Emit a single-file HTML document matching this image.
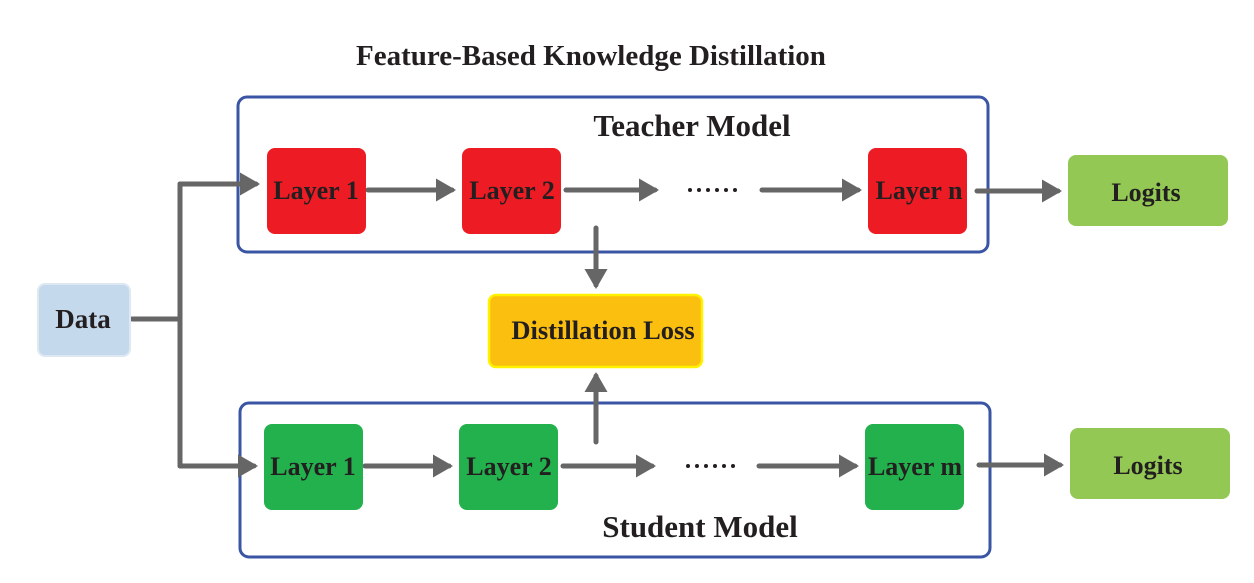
<!DOCTYPE html>
<html><head><meta charset="utf-8"><style>
body{margin:0;background:#fff;}
svg text{font-family:"Liberation Serif",serif;font-weight:bold;fill:#231f20;}
</style></head><body>
<svg width="1254" height="578" viewBox="0 0 1254 578" xmlns="http://www.w3.org/2000/svg">
<defs>
<marker id="a" markerWidth="4" markerHeight="4.6" refX="3.2" refY="2.3" orient="auto" markerUnits="strokeWidth">
<path d="M0,0 L4,2.3 L0,4.6 z" fill="#666"/></marker>
</defs>
<text x="591" y="65" font-size="29" text-anchor="middle">Feature-Based Knowledge Distillation</text>
<rect x="238" y="97" width="750" height="155" rx="9" fill="none" stroke="#3a55a4" stroke-width="3"/>
<rect x="240" y="403" width="750" height="154" rx="9" fill="none" stroke="#3a55a4" stroke-width="3"/>
<text x="692" y="136" font-size="31" text-anchor="middle">Teacher Model</text>
<text x="700" y="537" font-size="31" text-anchor="middle">Student Model</text>
<g stroke="#666" stroke-width="5" fill="none" stroke-linecap="round">
<path d="M132,319 H180"/>
<path d="M180,184 V466"/>
<path d="M180,184 H256" marker-end="url(#a)"/>
<path d="M180,466 H254" marker-end="url(#a)"/>
<path d="M368,190 H452" marker-end="url(#a)"/>
<path d="M566,190 H655" marker-end="url(#a)"/>
<path d="M762,190 H858" marker-end="url(#a)"/>
<path d="M977,191 H1058" marker-end="url(#a)"/>
<path d="M365,466 H449" marker-end="url(#a)"/>
<path d="M563,466 H652" marker-end="url(#a)"/>
<path d="M759,466 H855" marker-end="url(#a)"/>
<path d="M979,465 H1060" marker-end="url(#a)"/>
<path d="M596,228 V285" marker-end="url(#a)"/>
<path d="M596,442 V376" marker-end="url(#a)"/>
</g>
<g fill="#231f20">
<circle cx="690" cy="190" r="2"/><circle cx="699" cy="190" r="2"/><circle cx="708" cy="190" r="2"/><circle cx="717" cy="190" r="2"/><circle cx="726" cy="190" r="2"/><circle cx="735" cy="190" r="2"/>
<circle cx="688" cy="466" r="2"/><circle cx="697" cy="466" r="2"/><circle cx="706" cy="466" r="2"/><circle cx="715" cy="466" r="2"/><circle cx="724" cy="466" r="2"/><circle cx="733" cy="466" r="2"/>
</g>
<rect x="38" y="284" width="92" height="72" rx="7" fill="#c5d9ed" stroke="#dde8f3" stroke-width="2"/>
<text x="83" y="328" font-size="27" text-anchor="middle">Data</text>
<g fill="#ed1c24">
<rect x="267" y="148" width="99" height="86" rx="8"/>
<rect x="462" y="148" width="99" height="86" rx="8"/>
<rect x="868" y="148" width="99" height="86" rx="8"/>
</g>
<g fill="#22b14c">
<rect x="264" y="424" width="99" height="86" rx="8"/>
<rect x="459" y="424" width="99" height="86" rx="8"/>
<rect x="865" y="424" width="99" height="86" rx="8"/>
</g>
<g font-size="26" text-anchor="middle">
<text x="316" y="199">Layer 1</text>
<text x="512" y="199">Layer 2</text>
<text x="919" y="199">Layer n</text>
<text x="313" y="475">Layer 1</text>
<text x="509" y="475">Layer 2</text>
<text x="915" y="475">Layer m</text>
</g>
<rect x="489" y="295" width="213" height="72" rx="7" fill="#fbbf0f" stroke="#fff200" stroke-width="2.5"/>
<text x="603" y="339" font-size="26.5" text-anchor="middle">Distillation Loss</text>
<rect x="1068" y="155" width="160" height="71" rx="8" fill="#92c853"/>
<rect x="1070" y="428" width="160" height="71" rx="8" fill="#92c853"/>
<text x="1146" y="201" font-size="26" text-anchor="middle">Logits</text>
<text x="1148" y="474" font-size="26" text-anchor="middle">Logits</text>
</svg>
</body></html>
